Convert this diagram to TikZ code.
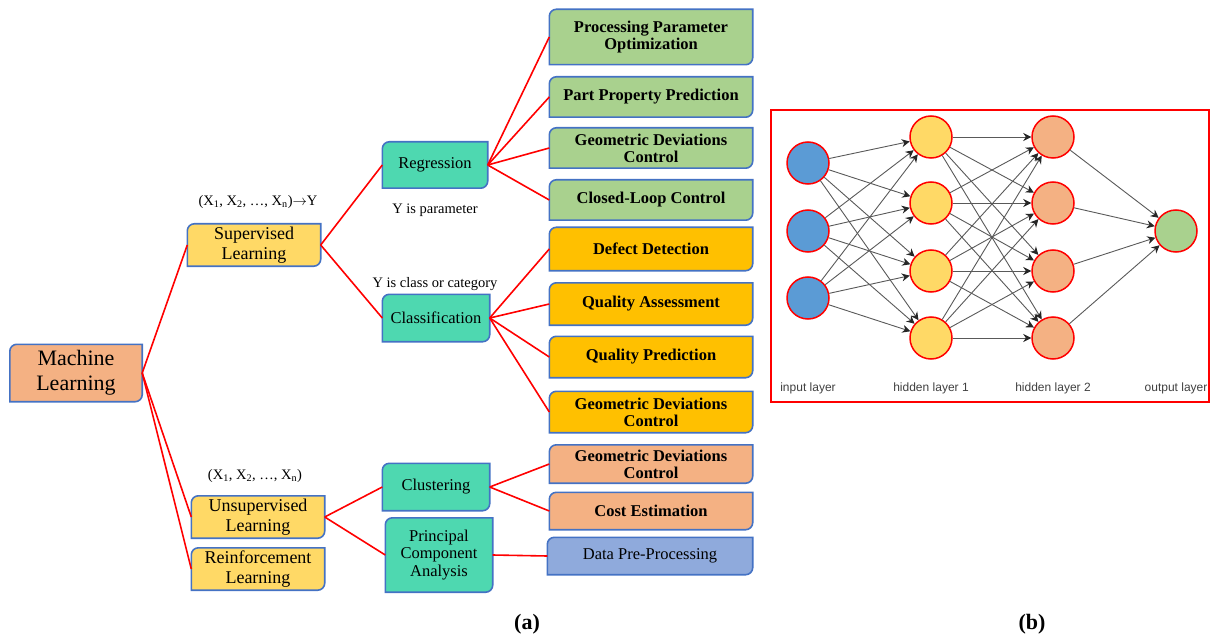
\documentclass[tikz,border=0pt]{standalone}
\usepackage{fontspec}
\setmainfont{Liberation Serif}
\setsansfont{Liberation Sans}
\usetikzlibrary{arrows.meta,backgrounds}

\definecolor{boxline}{HTML}{4472C4}
\definecolor{mlorange}{HTML}{F4B183}
\definecolor{learnyellow}{HTML}{FFD966}
\definecolor{methodteal}{HTML}{4ED8B0}
\definecolor{regrgreen}{HTML}{A9D18E}
\definecolor{classgold}{HTML}{FFC000}
\definecolor{prepblue}{HTML}{8FAADC}
\definecolor{inblue}{HTML}{5B9BD5}
\definecolor{linkred}{HTML}{FF0000}

\newcommand\rootfont{\fontsize{22}{25}\selectfont}
\newcommand\learnfont{\fontsize{18}{20}\selectfont}
\newcommand\methodfont{\fontsize{16.5}{17.5}\selectfont}
\newcommand\leaffont{\fontsize{16.5}{17}\selectfont\bfseries}
\newcommand\notefont{\fontsize{14.5}{16}\selectfont}
\newcommand\layerfont{\sffamily\fontsize{12}{14}\selectfont}

\begin{document}
\begin{tikzpicture}[x=1pt, y=-1pt,
    every node/.style={inner sep=0pt, align=center},
    leaf/.style={minimum width=203pt, minimum height=40pt, font=\leaffont},
    method/.style={minimum width=107pt, minimum height=47pt, font=\methodfont},
    learn/.style={minimum width=133pt, minimum height=42pt, font=\learnfont},
    link/.style={linkred, line width=1.6pt},
    neuron/.style={circle, draw=linkred, line width=1.5pt, minimum size=42pt},
    synapse/.style={draw=black!65, line width=0.9pt, -{Stealth[length=8pt, width=8pt, black!85]}}]
  \useasboundingbox (0,0) rectangle (1210,639);

  % Strom metod strojového učení
  \node[font=\rootfont, minimum width=132pt, minimum height=57pt] (ml) at (76,373) {Machine\\Learning};
  \node[learn] (sup) at (254,245) {Supervised\\Learning};
  \node[learn] (unsup) at (258,517) {Unsupervised\\Learning};
  \node[learn] (reinf) at (258,569) {Reinforcement\\Learning};

  \node[method, minimum width=105pt, minimum height=46pt] (regr) at (435,165) {Regression};
  \node[method] (clas) at (436,318) {Classification};
  \node[method] (clus) at (436,487) {Clustering};
  \node[method, minimum height=74pt] (pca) at (439,555) {Principal\\Component\\Analysis};

  % Popisky vstupů a výstupů
  \node[font=\notefont] (supnote) at (258,202) {(X\textsubscript{1}, X\textsubscript{2}, …, X\textsubscript{n})$\rightarrow$Y};
  \node[font=\notefont] (unsupnote) at (255,476) {(X\textsubscript{1}, X\textsubscript{2}, …, X\textsubscript{n})};
  \node[font=\notefont] (regrnote) at (435,210) {Y is parameter};
  \node[font=\notefont] (clasnote) at (435,284) {Y is class or category};

  % Aplikace
  \node[leaf, minimum height=55pt] (ppo) at (651,37) {Processing Parameter\\Optimization};
  \node[leaf] (ppp) at (651,97) {Part Property Prediction};
  \node[leaf] (gdca) at (651,148) {Geometric Deviations\\Control};
  \node[leaf] (clc) at (651,200) {Closed-Loop Control};
  \node[leaf, minimum height=43pt] (dd) at (651,249) {Defect Detection};
  \node[leaf, minimum height=42pt] (qa) at (651,304) {Quality Assessment};
  \node[leaf, minimum height=41pt] (qp) at (651,357) {Quality Prediction};
  \node[leaf, minimum height=41pt] (gdcb) at (651,412) {Geometric Deviations\\Control};
  \node[leaf, minimum height=38pt] (gdcc) at (651,464) {Geometric Deviations\\Control};
  \node[leaf, minimum height=37pt] (cost) at (651,511) {Cost Estimation};
  \node[leaf, font=\methodfont, minimum width=205pt, minimum height=37pt] (dpp) at (650,556) {Data Pre-Processing};

  % Rámečky se zaoblenými protilehlými rohy
  \begin{scope}[on background layer]
    \foreach \n/\c in {ml/mlorange, sup/learnyellow, unsup/learnyellow, reinf/learnyellow,
        regr/methodteal, clas/methodteal, clus/methodteal, pca/methodteal,
        ppo/regrgreen, ppp/regrgreen, gdca/regrgreen, clc/regrgreen,
        dd/classgold, qa/classgold, qp/classgold, gdcb/classgold,
        gdcc/mlorange, cost/mlorange, dpp/prepblue}
      \draw[boxline, line width=1.6pt, fill=\c]
        (\n.south west) -- ([yshift=-7pt]\n.north west) arc[start angle=180, end angle=90, radius=7pt]
        -- (\n.north east) -- ([yshift=7pt]\n.south east) arc[start angle=0, end angle=-90, radius=7pt]
        -- cycle;
  \end{scope}

  % Spojnice
  \draw[link] (ml.east) -- (sup.west);
  \draw[link] (ml.east) -- (unsup.west);
  \draw[link] (ml.east) -- (reinf.west);
  \draw[link] (sup.east) -- (regr.west);
  \draw[link] (sup.east) -- (clas.west);
  \draw[link] (unsup.east) -- (clus.west);
  \draw[link] (unsup.east) -- (pca.west);
  \foreach \t in {ppo, ppp, gdca, clc}
    \draw[link] (regr.east) -- (\t.west);
  \foreach \t in {dd, qa, qp, gdcb}
    \draw[link] (clas.east) -- (\t.west);
  \draw[link] (clus.east) -- (gdcc.west);
  \draw[link] (clus.east) -- (cost.west);
  \draw[link] (pca.east) -- (dpp.west);

  % Neuronová síť
  \draw[linkred, line width=1.6pt] (771,110) rectangle (1209,402);
  \foreach \j/\y in {1/163, 2/231, 3/298}
    \node[neuron, fill=inblue] (in\j) at (808,\y) {};
  \foreach \j/\y in {1/137, 2/203, 3/271, 4/338}{
    \node[neuron, fill=learnyellow] (ha\j) at (931,\y) {};
    \node[neuron, fill=mlorange] (hb\j) at (1053,\y) {};
  }
  \node[neuron, fill=regrgreen] (out) at (1176,231) {};

  \foreach \i in {1,2,3}
    \foreach \j in {1,...,4}
      \draw[synapse] (in\i) -- (ha\j);
  \foreach \i in {1,...,4}
    \foreach \j in {1,...,4}
      \draw[synapse] (ha\i) -- (hb\j);
  \foreach \i in {1,...,4}
    \draw[synapse] (hb\i) -- (out);

  \node[font=\layerfont, text=black!75] (inlab) at (808,388) {input layer};
  \node[font=\layerfont, text=black!75] (halab) at (931,388) {hidden layer 1};
  \node[font=\layerfont, text=black!75] (hblab) at (1053,388) {hidden layer 2};
  \node[font=\layerfont, text=black!75] (outlab) at (1176,388) {output layer};

  % Označení částí
  \node[font=\fontsize{22}{24}\selectfont\bfseries] (parta) at (527,624) {(a)};
  \node[font=\fontsize{22}{24}\selectfont\bfseries] (partb) at (1032,624) {(b)};
\end{tikzpicture}
\end{document}
